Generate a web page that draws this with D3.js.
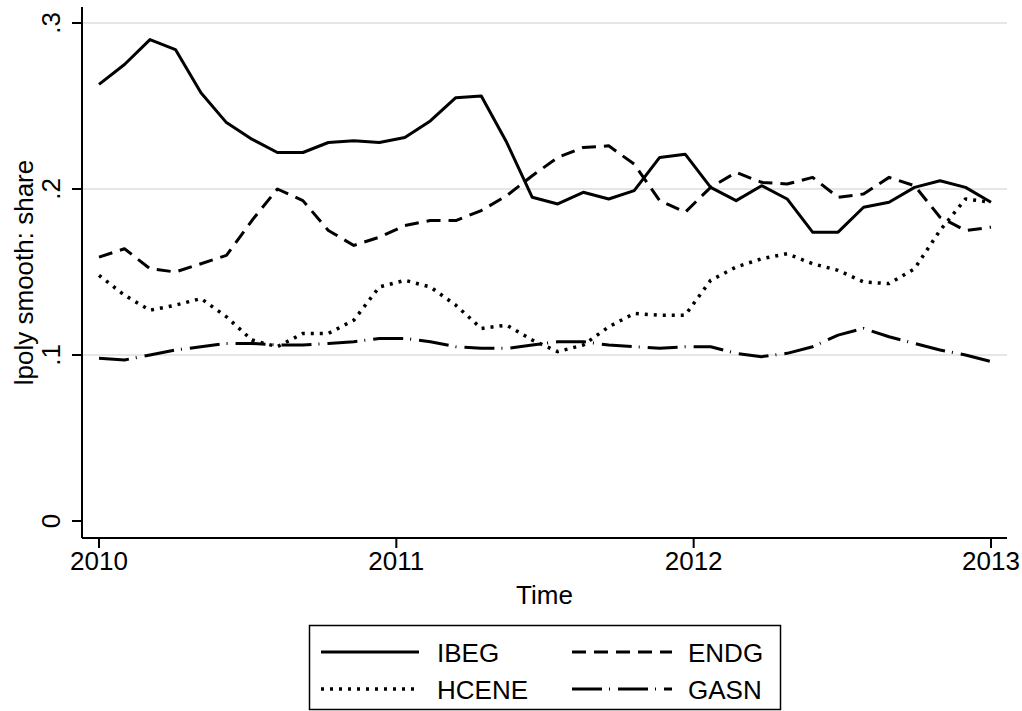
<!DOCTYPE html>
<html>
<head>
<meta charset="utf-8">
<script src="https://cdn.jsdelivr.net/npm/d3@7"></script>
<style>
  html, body { margin: 0; padding: 0; background: #fff; }
  svg { display: block; font-family: "Liberation Sans", Arial, Helvetica, sans-serif; }
</style>
</head>
<body>
<svg id="chart" width="1022" height="711"></svg>
<script>
// lpoly smoothing grid: 36 evenly spaced points from 2010 to 2013
const timeGrid = d3.range(36).map((i) => 2010 + (3 * i) / 35);

const ibeg = [
  0.263, 0.275, 0.290, 0.284, 0.258, 0.240, 0.230, 0.222, 0.222, 0.228, 0.229, 0.228,
  0.231, 0.241, 0.255, 0.256, 0.228, 0.195, 0.191, 0.198, 0.194, 0.199, 0.219, 0.221,
  0.201, 0.193, 0.202, 0.194, 0.174, 0.174, 0.189, 0.192, 0.201, 0.205, 0.201, 0.192
];
const endg = [
  0.159, 0.164, 0.152, 0.150, 0.155, 0.160, 0.181, 0.200, 0.193, 0.175, 0.166, 0.171,
  0.178, 0.181, 0.181, 0.187, 0.196, 0.208, 0.219, 0.225, 0.226, 0.215, 0.193, 0.186,
  0.201, 0.210, 0.204, 0.203, 0.207, 0.195, 0.197, 0.207, 0.202, 0.183, 0.175, 0.177
];
const hcene = [
  0.148, 0.136, 0.127, 0.130, 0.134, 0.123, 0.109, 0.105, 0.113, 0.113, 0.121, 0.141,
  0.145, 0.141, 0.130, 0.116, 0.118, 0.109, 0.102, 0.106, 0.117, 0.125, 0.124, 0.124,
  0.145, 0.153, 0.158, 0.161, 0.155, 0.151, 0.144, 0.143, 0.152, 0.175, 0.194, 0.192
];
const gasn = [
  0.098, 0.097, 0.100, 0.103, 0.105, 0.107, 0.107, 0.106, 0.106, 0.107, 0.108, 0.110,
  0.110, 0.108, 0.105, 0.104, 0.104, 0.106, 0.108, 0.108, 0.106, 0.105, 0.104, 0.105,
  0.105, 0.101, 0.099, 0.101, 0.105, 0.112, 0.116, 0.111, 0.107, 0.103, 0.100, 0.096
];

const seriesNames = ['IBEG', 'ENDG', 'HCENE', 'GASN'];
const seriesValues = [ibeg, endg, hcene, gasn];
const yTicks = [0, 0.1, 0.2, 0.3];
const yTickLabels = ['0', '.1', '.2', '.3'];
const xTicks = [2010, 2011, 2012, 2013];

const dashes = {
  IBEG: null,
  ENDG: '14,8',
  HCENE: '3,6',
  GASN: '30,7,1,8'
};

const svg = d3.select('#chart');
const fontSize = 26;

// plot region (Stata pads the axes a little)
const region = { left: 82, right: 1007, top: 7, bottom: 538 };

const x = d3.scaleLinear().domain([2010, 2013]).range([99, 991]);
const y = d3.scaleLinear().domain([0, 0.3]).range([521, 23]);

// GRIDLINES
svg
  .append('g')
  .selectAll('line')
  .data(yTicks.filter((d) => d > 0))
  .enter()
  .append('line')
  .attr('x1', region.left)
  .attr('x2', region.right)
  .attr('y1', (d) => y(d))
  .attr('y2', (d) => y(d))
  .attr('stroke', '#e6e6e6')
  .attr('stroke-width', 2);

// LINES
const line = d3
  .line()
  .x((d, i) => x(timeGrid[i]))
  .y((d) => y(d));

seriesNames.forEach((name, k) => {
  svg
    .append('path')
    .datum(seriesValues[k])
    .attr('fill', 'none')
    .attr('stroke', '#000')
    .attr('stroke-width', name === 'HCENE' ? 3.5 : 3)
    .attr('stroke-linejoin', 'round')
    .attr('stroke-dasharray', dashes[name])
    .attr('d', line);
});

// Y AXIS
const yAxis = svg.append('g').attr('transform', `translate(${region.left},0)`);
yAxis
  .append('line')
  .attr('y1', region.top)
  .attr('y2', region.bottom)
  .attr('stroke', '#000')
  .attr('stroke-width', 2);
yAxis
  .selectAll('.tick')
  .data(yTicks)
  .enter()
  .append('line')
  .attr('x1', -10)
  .attr('x2', 0)
  .attr('y1', (d) => y(d))
  .attr('y2', (d) => y(d))
  .attr('stroke', '#000')
  .attr('stroke-width', 2);
yAxis
  .selectAll('.lab')
  .data(yTicks)
  .enter()
  .append('text')
  .attr('transform', (d) => `translate(-22,${y(d)}) rotate(-90)`)
  .attr('text-anchor', 'middle')
  .attr('font-size', fontSize)
  .text((d, i) => yTickLabels[i]);

svg
  .append('text')
  .attr('transform', `translate(33,${(region.top + region.bottom) / 2}) rotate(-90)`)
  .attr('text-anchor', 'middle')
  .attr('font-size', fontSize)
  .text('lpoly smooth: share');

// X AXIS
const xAxis = svg.append('g').attr('transform', `translate(0,${region.bottom})`);
xAxis
  .append('line')
  .attr('x1', region.left)
  .attr('x2', region.right)
  .attr('stroke', '#000')
  .attr('stroke-width', 2);
xAxis
  .selectAll('.tick')
  .data(xTicks)
  .enter()
  .append('line')
  .attr('x1', (d) => x(d))
  .attr('x2', (d) => x(d))
  .attr('y1', 0)
  .attr('y2', 10)
  .attr('stroke', '#000')
  .attr('stroke-width', 2);
xAxis
  .selectAll('.lab')
  .data(xTicks)
  .enter()
  .append('text')
  .attr('x', (d) => x(d))
  .attr('y', 32)
  .attr('text-anchor', 'middle')
  .attr('font-size', fontSize)
  .text((d) => d);

svg
  .append('text')
  .attr('x', (region.left + region.right) / 2)
  .attr('y', 604)
  .attr('text-anchor', 'middle')
  .attr('font-size', fontSize)
  .text('Time');

// LEGEND
const legend = svg.append('g');
legend
  .append('rect')
  .attr('x', 309.5)
  .attr('y', 625.5)
  .attr('width', 471)
  .attr('height', 84)
  .attr('fill', '#fff')
  .attr('stroke', '#000')
  .attr('stroke-width', 1.5);

const legendCols = [
  { x1: 321, x2: 419, tx: 437 },
  { x1: 572, x2: 672, tx: 688 }
];
const legendRows = [652, 689];

seriesNames.forEach((name, k) => {
  const col = legendCols[k % 2];
  const rowY = legendRows[Math.floor(k / 2)];
  legend
    .append('line')
    .attr('x1', col.x1)
    .attr('x2', col.x2)
    .attr('y1', rowY)
    .attr('y2', rowY)
    .attr('stroke', '#000')
    .attr('stroke-width', name === 'HCENE' ? 3.5 : 3)
    .attr('stroke-dasharray', dashes[name]);
  legend
    .append('text')
    .attr('x', col.tx)
    .attr('y', rowY + 9.5)
    .attr('font-size', fontSize)
    .text(name);
});
</script>
</body>
</html>
